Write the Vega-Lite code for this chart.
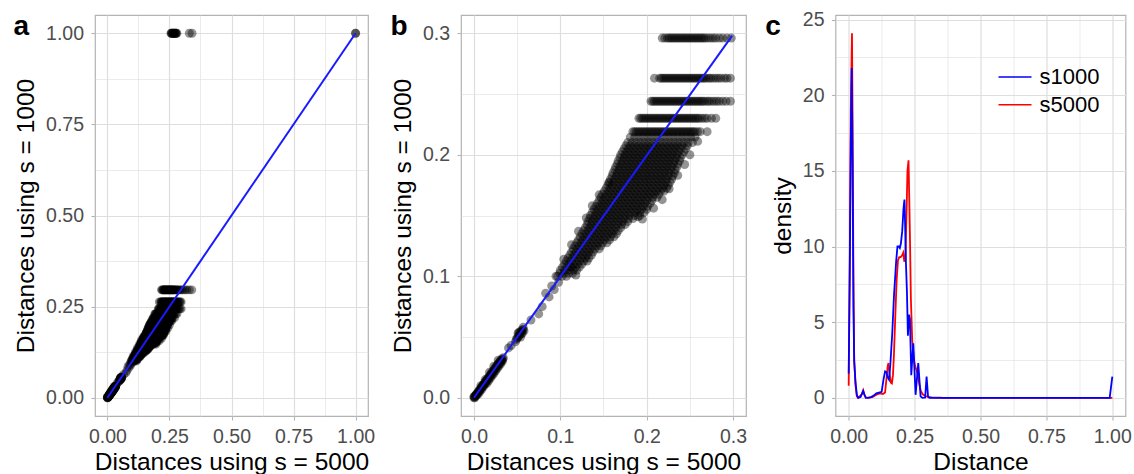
{
  "$schema": "https://vega.github.io/schema/vega-lite/v6.json",
  "padding": {"left": 12, "top": 8, "right": 0, "bottom": 0},
  "background": "white",
  "config": {
    "font": "Liberation Sans",
    "view": {"stroke": "#B3B3B3", "strokeWidth": 1.2},
    "axis": {
      "domain": false,
      "gridColor": "#DEDEDE",
      "tickColor": "#B3B3B3",
      "tickSize": 4,
      "tickWidth": 1.1,
      "labelColor": "#4D4D4D",
      "labelFontSize": 19.5,
      "labelPadding": 7.5,
      "labelOverlap": false,
      "labelFlush": false,
      "titleFontSize": 24.5,
      "titleFontWeight": "normal",
      "titleColor": "#000000",
      "titlePadding": 7
    },
    "axisX": {"titlePadding": 4},
    "title": {"fontSize": 28, "fontWeight": "bold", "anchor": "start", "frame": "bounds", "color": "#000000"}
  },
  "datasets": {
    "pts": [
      {"x":0,"y":0},{"x":0.001,"y":0},{"x":0,"y":0.001},{"x":0.002,"y":0.002},{"x":0.003,"y":0.002},{"x":0.004,"y":0.004},{"x":0.005,"y":0.003},{"x":0.006,"y":0.006},{"x":0.007,"y":0.005},{"x":0.008,"y":0.008},{"x":0.009,"y":0.007},{"x":0.010,"y":0.010},{"x":0.011,"y":0.009},{"x":0.012,"y":0.012},{"x":0.013,"y":0.011},{"x":0.014,"y":0.014},{"x":0.015,"y":0.012},{"x":0.016,"y":0.016},{"x":0.017,"y":0.014},{"x":0.018,"y":0.018},{"x":0.019,"y":0.016},{"x":0.020,"y":0.020},{"x":0.021,"y":0.018},{"x":0.022,"y":0.022},{"x":0.023,"y":0.020},{"x":0.024,"y":0.024},{"x":0.025,"y":0.022},{"x":0.026,"y":0.026},{"x":0.027,"y":0.024},{"x":0.028,"y":0.028},{"x":0.029,"y":0.026},{"x":0.030,"y":0.030},{"x":0.031,"y":0.028},{"x":0.032,"y":0.032},{"x":0.033,"y":0.030},{"x":0.034,"y":0.033},{"x":0.028,"y":0.031},{"x":0.023,"y":0.026},{"x":0.018,"y":0.021},{"x":0.013,"y":0.015},{"x":0.008,"y":0.010},
      {"x":0.0005,"y":0.001},{"x":0.0015,"y":0.001},{"x":0.0025,"y":0.003},{"x":0.0035,"y":0.003},{"x":0.0045,"y":0.0045},{"x":0.0055,"y":0.005},{"x":0.0065,"y":0.0065},{"x":0.0075,"y":0.007},{"x":0.0085,"y":0.0085},{"x":0.0095,"y":0.009},{"x":0.0105,"y":0.0105},{"x":0.0115,"y":0.011},{"x":0.0125,"y":0.0125},{"x":0.0135,"y":0.013},{"x":0.0145,"y":0.0145},{"x":0.0155,"y":0.0145},{"x":0.0165,"y":0.0165},{"x":0.0175,"y":0.016},{"x":0.0185,"y":0.0185},{"x":0.0195,"y":0.018},{"x":0.0205,"y":0.0205},{"x":0.0215,"y":0.02},{"x":0.0225,"y":0.0225},{"x":0.0235,"y":0.022},{"x":0.0245,"y":0.0245},{"x":0.0255,"y":0.024},{"x":0.0265,"y":0.0265},{"x":0.0275,"y":0.026},{"x":0.0285,"y":0.0285},{"x":0.0295,"y":0.028},{"x":0.0305,"y":0.03},{"x":0.0315,"y":0.03},{"x":0.0325,"y":0.031},{"x":0.0335,"y":0.032},
      {"x":0.040,"y":0.041},{"x":0.043,"y":0.043},{"x":0.048,"y":0.046},{"x":0.050,"y":0.049},{"x":0.052,"y":0.051},{"x":0.053,"y":0.054},{"x":0.055,"y":0.053},{"x":0.056,"y":0.056},{"x":0.057,"y":0.058},{"x":0.054,"y":0.050},{"x":0.051,"y":0.053},{"x":0.058,"y":0.055},
      {"x":0.049,"y":0.048},{"x":0.051,"y":0.050},{"x":0.053,"y":0.052},{"x":0.055,"y":0.055},{"x":0.057,"y":0.056},{"x":0.052,"y":0.054},{"x":0.056,"y":0.053},
      {"x":0.066,"y":0.064},{"x":0.075,"y":0.069},{"x":0.079,"y":0.075},{"x":0.083,"y":0.086},{"x":0.087,"y":0.083},{"x":0.090,"y":0.092},{"x":0.093,"y":0.089},{"x":0.095,"y":0.100},{"x":0.098,"y":0.095},{"x":0.118,"y":0.101},{"x":0.112,"y":0.108},
      {"x":0.156,"y":0.177},{"x":0.195,"y":0.147},{"x":0.190,"y":0.149},{"x":0.104,"y":0.114},{"x":0.113,"y":0.126},{"x":0.121,"y":0.137},{"x":0.130,"y":0.148},{"x":0.137,"y":0.158},{"x":0.145,"y":0.167},{"x":0.259,"y":0.211},{"x":0.250,"y":0.200},{"x":0.244,"y":0.192},{"x":0.236,"y":0.183},{"x":0.226,"y":0.172},{"x":0.218,"y":0.163},{"x":0.208,"y":0.156},{"x":0.270,"y":0.219},
      {"x":0.097,"y":0.100},{"x":0.102,"y":0.100},{"x":0.107,"y":0.100},
      {"x":0.0995,"y":0.1025},{"x":0.1045,"y":0.1025},{"x":0.1095,"y":0.1025},{"x":0.114,"y":0.1025},
      {"x":0.100,"y":0.105},{"x":0.105,"y":0.105},{"x":0.110,"y":0.105},{"x":0.115,"y":0.105},{"x":0.119,"y":0.105},
      {"x":0.1025,"y":0.1075},{"x":0.1075,"y":0.1075},{"x":0.1125,"y":0.1075},{"x":0.1175,"y":0.1075},{"x":0.122,"y":0.1075},
      {"x":0.105,"y":0.110},{"x":0.110,"y":0.110},{"x":0.115,"y":0.110},{"x":0.120,"y":0.110},{"x":0.125,"y":0.110},
      {"x":0.107,"y":0.1125},{"x":0.112,"y":0.1125},{"x":0.117,"y":0.1125},{"x":0.122,"y":0.1125},{"x":0.127,"y":0.1125},{"x":0.131,"y":0.1125},
      {"x":0.109,"y":0.115},{"x":0.114,"y":0.115},{"x":0.119,"y":0.115},{"x":0.124,"y":0.115},{"x":0.129,"y":0.115},{"x":0.133,"y":0.115},
      {"x":0.111,"y":0.1175},{"x":0.116,"y":0.1175},{"x":0.121,"y":0.1175},{"x":0.126,"y":0.1175},{"x":0.131,"y":0.1175},{"x":0.136,"y":0.1175},
      {"x":0.113,"y":0.120},{"x":0.118,"y":0.120},{"x":0.123,"y":0.120},{"x":0.128,"y":0.120},{"x":0.133,"y":0.120},{"x":0.138,"y":0.120},
      {"x":0.115,"y":0.1225},{"x":0.120,"y":0.1225},{"x":0.125,"y":0.1225},{"x":0.130,"y":0.1225},{"x":0.135,"y":0.1225},{"x":0.140,"y":0.1225},{"x":0.145,"y":0.1225},
      {"x":0.117,"y":0.125},{"x":0.122,"y":0.125},{"x":0.127,"y":0.125},{"x":0.132,"y":0.125},{"x":0.137,"y":0.125},{"x":0.142,"y":0.125},{"x":0.147,"y":0.125},
      {"x":0.119,"y":0.1275},{"x":0.124,"y":0.1275},{"x":0.129,"y":0.1275},{"x":0.134,"y":0.1275},{"x":0.139,"y":0.1275},{"x":0.144,"y":0.1275},{"x":0.149,"y":0.1275},{"x":0.154,"y":0.1275},
      {"x":0.121,"y":0.130},{"x":0.126,"y":0.130},{"x":0.131,"y":0.130},{"x":0.136,"y":0.130},{"x":0.141,"y":0.130},{"x":0.146,"y":0.130},{"x":0.151,"y":0.130},{"x":0.157,"y":0.130},
      {"x":0.123,"y":0.1325},{"x":0.128,"y":0.1325},{"x":0.133,"y":0.1325},{"x":0.138,"y":0.1325},{"x":0.143,"y":0.1325},{"x":0.148,"y":0.1325},{"x":0.153,"y":0.1325},{"x":0.158,"y":0.1325},{"x":0.162,"y":0.1325},
      {"x":0.125,"y":0.135},{"x":0.130,"y":0.135},{"x":0.135,"y":0.135},{"x":0.140,"y":0.135},{"x":0.145,"y":0.135},{"x":0.150,"y":0.135},{"x":0.155,"y":0.135},{"x":0.160,"y":0.135},{"x":0.165,"y":0.135},
      {"x":0.127,"y":0.1375},{"x":0.132,"y":0.1375},{"x":0.137,"y":0.1375},{"x":0.142,"y":0.1375},{"x":0.147,"y":0.1375},{"x":0.152,"y":0.1375},{"x":0.157,"y":0.1375},{"x":0.162,"y":0.1375},{"x":0.167,"y":0.1375},
      {"x":0.129,"y":0.140},{"x":0.134,"y":0.140},{"x":0.139,"y":0.140},{"x":0.144,"y":0.140},{"x":0.149,"y":0.140},{"x":0.154,"y":0.140},{"x":0.159,"y":0.140},{"x":0.164,"y":0.140},{"x":0.170,"y":0.140},
      {"x":0.131,"y":0.1425},{"x":0.136,"y":0.1425},{"x":0.141,"y":0.1425},{"x":0.146,"y":0.1425},{"x":0.151,"y":0.1425},{"x":0.156,"y":0.1425},{"x":0.161,"y":0.1425},{"x":0.166,"y":0.1425},{"x":0.171,"y":0.1425},{"x":0.175,"y":0.1425},
      {"x":0.132,"y":0.145},{"x":0.137,"y":0.145},{"x":0.142,"y":0.145},{"x":0.147,"y":0.145},{"x":0.152,"y":0.145},{"x":0.157,"y":0.145},{"x":0.162,"y":0.145},{"x":0.167,"y":0.145},{"x":0.172,"y":0.145},{"x":0.178,"y":0.145},
      {"x":0.134,"y":0.1475},{"x":0.139,"y":0.1475},{"x":0.144,"y":0.1475},{"x":0.149,"y":0.1475},{"x":0.154,"y":0.1475},{"x":0.159,"y":0.1475},{"x":0.164,"y":0.1475},{"x":0.169,"y":0.1475},{"x":0.174,"y":0.1475},{"x":0.179,"y":0.1475},{"x":0.184,"y":0.1475},
      {"x":0.135,"y":0.150},{"x":0.140,"y":0.150},{"x":0.145,"y":0.150},{"x":0.150,"y":0.150},{"x":0.155,"y":0.150},{"x":0.160,"y":0.150},{"x":0.165,"y":0.150},{"x":0.170,"y":0.150},{"x":0.175,"y":0.150},{"x":0.180,"y":0.150},{"x":0.186,"y":0.150},{"x":0.192,"y":0.150},
      {"x":0.137,"y":0.1525},{"x":0.142,"y":0.1525},{"x":0.147,"y":0.1525},{"x":0.152,"y":0.1525},{"x":0.157,"y":0.1525},{"x":0.162,"y":0.1525},{"x":0.167,"y":0.1525},{"x":0.172,"y":0.1525},{"x":0.177,"y":0.1525},{"x":0.182,"y":0.1525},{"x":0.187,"y":0.1525},{"x":0.192,"y":0.1525},{"x":0.197,"y":0.1525},
      {"x":0.139,"y":0.155},{"x":0.144,"y":0.155},{"x":0.149,"y":0.155},{"x":0.154,"y":0.155},{"x":0.159,"y":0.155},{"x":0.164,"y":0.155},{"x":0.169,"y":0.155},{"x":0.174,"y":0.155},{"x":0.179,"y":0.155},{"x":0.184,"y":0.155},{"x":0.189,"y":0.155},{"x":0.194,"y":0.155},{"x":0.200,"y":0.155},
      {"x":0.141,"y":0.1575},{"x":0.146,"y":0.1575},{"x":0.151,"y":0.1575},{"x":0.156,"y":0.1575},{"x":0.161,"y":0.1575},{"x":0.166,"y":0.1575},{"x":0.171,"y":0.1575},{"x":0.176,"y":0.1575},{"x":0.181,"y":0.1575},{"x":0.186,"y":0.1575},{"x":0.191,"y":0.1575},{"x":0.196,"y":0.1575},{"x":0.201,"y":0.1575},
      {"x":0.143,"y":0.160},{"x":0.148,"y":0.160},{"x":0.153,"y":0.160},{"x":0.158,"y":0.160},{"x":0.163,"y":0.160},{"x":0.168,"y":0.160},{"x":0.173,"y":0.160},{"x":0.178,"y":0.160},{"x":0.183,"y":0.160},{"x":0.188,"y":0.160},{"x":0.193,"y":0.160},{"x":0.198,"y":0.160},{"x":0.204,"y":0.160},
      {"x":0.145,"y":0.1625},{"x":0.150,"y":0.1625},{"x":0.155,"y":0.1625},{"x":0.160,"y":0.1625},{"x":0.165,"y":0.1625},{"x":0.170,"y":0.1625},{"x":0.175,"y":0.1625},{"x":0.180,"y":0.1625},{"x":0.185,"y":0.1625},{"x":0.190,"y":0.1625},{"x":0.195,"y":0.1625},{"x":0.200,"y":0.1625},{"x":0.206,"y":0.1625},
      {"x":0.147,"y":0.165},{"x":0.152,"y":0.165},{"x":0.157,"y":0.165},{"x":0.162,"y":0.165},{"x":0.167,"y":0.165},{"x":0.172,"y":0.165},{"x":0.177,"y":0.165},{"x":0.182,"y":0.165},{"x":0.187,"y":0.165},{"x":0.192,"y":0.165},{"x":0.197,"y":0.165},{"x":0.202,"y":0.165},{"x":0.207,"y":0.165},{"x":0.212,"y":0.165},
      {"x":0.149,"y":0.1675},{"x":0.154,"y":0.1675},{"x":0.159,"y":0.1675},{"x":0.164,"y":0.1675},{"x":0.169,"y":0.1675},{"x":0.174,"y":0.1675},{"x":0.179,"y":0.1675},{"x":0.184,"y":0.1675},{"x":0.189,"y":0.1675},{"x":0.194,"y":0.1675},{"x":0.199,"y":0.1675},{"x":0.204,"y":0.1675},{"x":0.209,"y":0.1675},{"x":0.214,"y":0.1675},
      {"x":0.151,"y":0.170},{"x":0.156,"y":0.170},{"x":0.161,"y":0.170},{"x":0.166,"y":0.170},{"x":0.171,"y":0.170},{"x":0.176,"y":0.170},{"x":0.181,"y":0.170},{"x":0.186,"y":0.170},{"x":0.191,"y":0.170},{"x":0.196,"y":0.170},{"x":0.201,"y":0.170},{"x":0.206,"y":0.170},{"x":0.211,"y":0.170},{"x":0.216,"y":0.170},{"x":0.220,"y":0.170},
      {"x":0.153,"y":0.1725},{"x":0.158,"y":0.1725},{"x":0.163,"y":0.1725},{"x":0.168,"y":0.1725},{"x":0.173,"y":0.1725},{"x":0.178,"y":0.1725},{"x":0.183,"y":0.1725},{"x":0.188,"y":0.1725},{"x":0.193,"y":0.1725},{"x":0.198,"y":0.1725},{"x":0.203,"y":0.1725},{"x":0.208,"y":0.1725},{"x":0.213,"y":0.1725},{"x":0.218,"y":0.1725},{"x":0.223,"y":0.1725},
      {"x":0.155,"y":0.175},{"x":0.160,"y":0.175},{"x":0.165,"y":0.175},{"x":0.170,"y":0.175},{"x":0.175,"y":0.175},{"x":0.180,"y":0.175},{"x":0.185,"y":0.175},{"x":0.190,"y":0.175},{"x":0.195,"y":0.175},{"x":0.200,"y":0.175},{"x":0.205,"y":0.175},{"x":0.210,"y":0.175},{"x":0.215,"y":0.175},{"x":0.220,"y":0.175},{"x":0.225,"y":0.175},
      {"x":0.157,"y":0.1775},{"x":0.162,"y":0.1775},{"x":0.167,"y":0.1775},{"x":0.172,"y":0.1775},{"x":0.177,"y":0.1775},{"x":0.182,"y":0.1775},{"x":0.187,"y":0.1775},{"x":0.192,"y":0.1775},{"x":0.197,"y":0.1775},{"x":0.202,"y":0.1775},{"x":0.207,"y":0.1775},{"x":0.212,"y":0.1775},{"x":0.217,"y":0.1775},{"x":0.222,"y":0.1775},{"x":0.227,"y":0.1775},
      {"x":0.158,"y":0.180},{"x":0.163,"y":0.180},{"x":0.168,"y":0.180},{"x":0.173,"y":0.180},{"x":0.178,"y":0.180},{"x":0.183,"y":0.180},{"x":0.188,"y":0.180},{"x":0.193,"y":0.180},{"x":0.198,"y":0.180},{"x":0.203,"y":0.180},{"x":0.208,"y":0.180},{"x":0.213,"y":0.180},{"x":0.218,"y":0.180},{"x":0.223,"y":0.180},{"x":0.229,"y":0.180},
      {"x":0.160,"y":0.1825},{"x":0.165,"y":0.1825},{"x":0.170,"y":0.1825},{"x":0.175,"y":0.1825},{"x":0.180,"y":0.1825},{"x":0.185,"y":0.1825},{"x":0.190,"y":0.1825},{"x":0.195,"y":0.1825},{"x":0.200,"y":0.1825},{"x":0.205,"y":0.1825},{"x":0.210,"y":0.1825},{"x":0.215,"y":0.1825},{"x":0.220,"y":0.1825},{"x":0.225,"y":0.1825},{"x":0.230,"y":0.1825},
      {"x":0.161,"y":0.185},{"x":0.166,"y":0.185},{"x":0.171,"y":0.185},{"x":0.176,"y":0.185},{"x":0.181,"y":0.185},{"x":0.186,"y":0.185},{"x":0.191,"y":0.185},{"x":0.196,"y":0.185},{"x":0.201,"y":0.185},{"x":0.206,"y":0.185},{"x":0.211,"y":0.185},{"x":0.216,"y":0.185},{"x":0.221,"y":0.185},{"x":0.226,"y":0.185},{"x":0.232,"y":0.185},
      {"x":0.163,"y":0.1875},{"x":0.168,"y":0.1875},{"x":0.173,"y":0.1875},{"x":0.178,"y":0.1875},{"x":0.183,"y":0.1875},{"x":0.188,"y":0.1875},{"x":0.193,"y":0.1875},{"x":0.198,"y":0.1875},{"x":0.203,"y":0.1875},{"x":0.208,"y":0.1875},{"x":0.213,"y":0.1875},{"x":0.218,"y":0.1875},{"x":0.223,"y":0.1875},{"x":0.228,"y":0.1875},{"x":0.233,"y":0.1875},
      {"x":0.164,"y":0.190},{"x":0.169,"y":0.190},{"x":0.174,"y":0.190},{"x":0.179,"y":0.190},{"x":0.184,"y":0.190},{"x":0.189,"y":0.190},{"x":0.194,"y":0.190},{"x":0.199,"y":0.190},{"x":0.204,"y":0.190},{"x":0.209,"y":0.190},{"x":0.214,"y":0.190},{"x":0.219,"y":0.190},{"x":0.224,"y":0.190},{"x":0.229,"y":0.190},{"x":0.235,"y":0.190},
      {"x":0.166,"y":0.1925},{"x":0.171,"y":0.1925},{"x":0.176,"y":0.1925},{"x":0.181,"y":0.1925},{"x":0.186,"y":0.1925},{"x":0.191,"y":0.1925},{"x":0.196,"y":0.1925},{"x":0.201,"y":0.1925},{"x":0.206,"y":0.1925},{"x":0.211,"y":0.1925},{"x":0.216,"y":0.1925},{"x":0.221,"y":0.1925},{"x":0.226,"y":0.1925},{"x":0.231,"y":0.1925},{"x":0.236,"y":0.1925},
      {"x":0.167,"y":0.195},{"x":0.172,"y":0.195},{"x":0.177,"y":0.195},{"x":0.182,"y":0.195},{"x":0.187,"y":0.195},{"x":0.192,"y":0.195},{"x":0.197,"y":0.195},{"x":0.202,"y":0.195},{"x":0.207,"y":0.195},{"x":0.212,"y":0.195},{"x":0.217,"y":0.195},{"x":0.222,"y":0.195},{"x":0.227,"y":0.195},{"x":0.232,"y":0.195},{"x":0.238,"y":0.195},
      {"x":0.169,"y":0.1975},{"x":0.174,"y":0.1975},{"x":0.179,"y":0.1975},{"x":0.184,"y":0.1975},{"x":0.189,"y":0.1975},{"x":0.194,"y":0.1975},{"x":0.199,"y":0.1975},{"x":0.204,"y":0.1975},{"x":0.209,"y":0.1975},{"x":0.214,"y":0.1975},{"x":0.219,"y":0.1975},{"x":0.224,"y":0.1975},{"x":0.229,"y":0.1975},{"x":0.234,"y":0.1975},{"x":0.239,"y":0.1975},
      {"x":0.170,"y":0.200},{"x":0.175,"y":0.200},{"x":0.180,"y":0.200},{"x":0.185,"y":0.200},{"x":0.190,"y":0.200},{"x":0.195,"y":0.200},{"x":0.200,"y":0.200},{"x":0.205,"y":0.200},{"x":0.210,"y":0.200},{"x":0.215,"y":0.200},{"x":0.220,"y":0.200},{"x":0.225,"y":0.200},{"x":0.230,"y":0.200},{"x":0.235,"y":0.200},{"x":0.241,"y":0.200},
      {"x":0.172,"y":0.2025},{"x":0.177,"y":0.2025},{"x":0.182,"y":0.2025},{"x":0.187,"y":0.2025},{"x":0.192,"y":0.2025},{"x":0.197,"y":0.2025},{"x":0.202,"y":0.2025},{"x":0.207,"y":0.2025},{"x":0.212,"y":0.2025},{"x":0.217,"y":0.2025},{"x":0.222,"y":0.2025},{"x":0.227,"y":0.2025},{"x":0.232,"y":0.2025},{"x":0.237,"y":0.2025},{"x":0.243,"y":0.2025},
      {"x":0.174,"y":0.205},{"x":0.179,"y":0.205},{"x":0.184,"y":0.205},{"x":0.189,"y":0.205},{"x":0.194,"y":0.205},{"x":0.199,"y":0.205},{"x":0.204,"y":0.205},{"x":0.209,"y":0.205},{"x":0.214,"y":0.205},{"x":0.219,"y":0.205},{"x":0.224,"y":0.205},{"x":0.229,"y":0.205},{"x":0.234,"y":0.205},{"x":0.239,"y":0.205},{"x":0.245,"y":0.205},
      {"x":0.176,"y":0.2075},{"x":0.181,"y":0.2075},{"x":0.186,"y":0.2075},{"x":0.191,"y":0.2075},{"x":0.196,"y":0.2075},{"x":0.201,"y":0.2075},{"x":0.206,"y":0.2075},{"x":0.211,"y":0.2075},{"x":0.216,"y":0.2075},{"x":0.221,"y":0.2075},{"x":0.226,"y":0.2075},{"x":0.231,"y":0.2075},{"x":0.236,"y":0.2075},{"x":0.241,"y":0.2075},{"x":0.247,"y":0.2075},
      {"x":0.178,"y":0.210},{"x":0.183,"y":0.210},{"x":0.188,"y":0.210},{"x":0.193,"y":0.210},{"x":0.198,"y":0.210},{"x":0.203,"y":0.210},{"x":0.208,"y":0.210},{"x":0.213,"y":0.210},{"x":0.218,"y":0.210},{"x":0.223,"y":0.210},{"x":0.228,"y":0.210},{"x":0.233,"y":0.210},{"x":0.238,"y":0.210},{"x":0.243,"y":0.210},{"x":0.248,"y":0.210},{"x":0.253,"y":0.210},
      {"x":0.181,"y":0.2145},{"x":0.186,"y":0.2145},{"x":0.191,"y":0.2145},{"x":0.196,"y":0.2145},{"x":0.201,"y":0.2145},{"x":0.206,"y":0.2145},{"x":0.211,"y":0.2145},{"x":0.216,"y":0.2145},{"x":0.221,"y":0.2145},{"x":0.226,"y":0.2145},{"x":0.231,"y":0.2145},{"x":0.236,"y":0.2145},{"x":0.241,"y":0.2145},{"x":0.246,"y":0.2145},{"x":0.251,"y":0.2145},{"x":0.256,"y":0.2145},
      {"x":0.184,"y":0.219},{"x":0.188,"y":0.219},{"x":0.192,"y":0.219},{"x":0.196,"y":0.219},{"x":0.200,"y":0.219},{"x":0.204,"y":0.219},{"x":0.208,"y":0.219},{"x":0.212,"y":0.219},{"x":0.216,"y":0.219},{"x":0.220,"y":0.219},{"x":0.224,"y":0.219},{"x":0.228,"y":0.219},{"x":0.232,"y":0.219},{"x":0.236,"y":0.219},{"x":0.240,"y":0.219},{"x":0.244,"y":0.219},{"x":0.248,"y":0.219},{"x":0.252,"y":0.219},{"x":0.256,"y":0.219},{"x":0.262,"y":0.219},
      {"x":0.186,"y":0.219},{"x":0.190,"y":0.219},{"x":0.194,"y":0.219},{"x":0.198,"y":0.219},{"x":0.202,"y":0.219},{"x":0.206,"y":0.219},{"x":0.210,"y":0.219},{"x":0.214,"y":0.219},{"x":0.218,"y":0.219},{"x":0.222,"y":0.219},{"x":0.226,"y":0.219},{"x":0.230,"y":0.219},{"x":0.234,"y":0.219},{"x":0.238,"y":0.219},{"x":0.242,"y":0.219},{"x":0.246,"y":0.219},{"x":0.250,"y":0.219},{"x":0.254,"y":0.219},{"x":0.259,"y":0.219},
      {"x":0.191,"y":0.230},{"x":0.195,"y":0.230},{"x":0.199,"y":0.230},{"x":0.203,"y":0.230},{"x":0.207,"y":0.230},{"x":0.211,"y":0.230},{"x":0.215,"y":0.230},{"x":0.219,"y":0.230},{"x":0.223,"y":0.230},{"x":0.227,"y":0.230},{"x":0.231,"y":0.230},{"x":0.235,"y":0.230},{"x":0.239,"y":0.230},{"x":0.243,"y":0.230},{"x":0.247,"y":0.230},{"x":0.251,"y":0.230},{"x":0.255,"y":0.230},{"x":0.259,"y":0.230},{"x":0.264,"y":0.230},{"x":0.270,"y":0.230},{"x":0.280,"y":0.230},
      {"x":0.193,"y":0.230},{"x":0.197,"y":0.230},{"x":0.201,"y":0.230},{"x":0.205,"y":0.230},{"x":0.209,"y":0.230},{"x":0.213,"y":0.230},{"x":0.217,"y":0.230},{"x":0.221,"y":0.230},{"x":0.225,"y":0.230},{"x":0.229,"y":0.230},{"x":0.233,"y":0.230},{"x":0.237,"y":0.230},{"x":0.241,"y":0.230},{"x":0.245,"y":0.230},{"x":0.249,"y":0.230},{"x":0.253,"y":0.230},{"x":0.257,"y":0.230},{"x":0.261,"y":0.230},{"x":0.267,"y":0.230},{"x":0.275,"y":0.230},
      {"x":0.205,"y":0.244},{"x":0.209,"y":0.244},{"x":0.213,"y":0.244},{"x":0.217,"y":0.244},{"x":0.221,"y":0.244},{"x":0.225,"y":0.244},{"x":0.229,"y":0.244},{"x":0.233,"y":0.244},{"x":0.237,"y":0.244},{"x":0.241,"y":0.244},{"x":0.245,"y":0.244},{"x":0.249,"y":0.244},{"x":0.253,"y":0.244},{"x":0.257,"y":0.244},{"x":0.261,"y":0.244},{"x":0.265,"y":0.244},{"x":0.270,"y":0.244},{"x":0.275,"y":0.244},{"x":0.281,"y":0.244},{"x":0.288,"y":0.244},{"x":0.297,"y":0.244},
      {"x":0.207,"y":0.244},{"x":0.211,"y":0.244},{"x":0.215,"y":0.244},{"x":0.219,"y":0.244},{"x":0.223,"y":0.244},{"x":0.227,"y":0.244},{"x":0.231,"y":0.244},{"x":0.235,"y":0.244},{"x":0.239,"y":0.244},{"x":0.243,"y":0.244},{"x":0.247,"y":0.244},{"x":0.251,"y":0.244},{"x":0.255,"y":0.244},{"x":0.259,"y":0.244},{"x":0.263,"y":0.244},{"x":0.267,"y":0.244},{"x":0.272,"y":0.244},{"x":0.278,"y":0.244},{"x":0.284,"y":0.244},{"x":0.292,"y":0.244},
      {"x":0.209,"y":0.263},{"x":0.215,"y":0.263},{"x":0.219,"y":0.263},{"x":0.223,"y":0.263},{"x":0.227,"y":0.263},{"x":0.231,"y":0.263},{"x":0.235,"y":0.263},{"x":0.239,"y":0.263},{"x":0.243,"y":0.263},{"x":0.247,"y":0.263},{"x":0.251,"y":0.263},{"x":0.255,"y":0.263},{"x":0.259,"y":0.263},{"x":0.263,"y":0.263},{"x":0.267,"y":0.263},{"x":0.272,"y":0.263},{"x":0.277,"y":0.263},{"x":0.283,"y":0.263},{"x":0.290,"y":0.263},{"x":0.297,"y":0.263},
      {"x":0.217,"y":0.263},{"x":0.221,"y":0.263},{"x":0.225,"y":0.263},{"x":0.229,"y":0.263},{"x":0.233,"y":0.263},{"x":0.237,"y":0.263},{"x":0.241,"y":0.263},{"x":0.245,"y":0.263},{"x":0.249,"y":0.263},{"x":0.253,"y":0.263},{"x":0.257,"y":0.263},{"x":0.261,"y":0.263},{"x":0.265,"y":0.263},{"x":0.269,"y":0.263},{"x":0.274,"y":0.263},{"x":0.280,"y":0.263},{"x":0.286,"y":0.263},{"x":0.293,"y":0.263},
      {"x":0.218,"y":0.296},{"x":0.224,"y":0.296},{"x":0.228,"y":0.296},{"x":0.232,"y":0.296},{"x":0.236,"y":0.296},{"x":0.240,"y":0.296},{"x":0.244,"y":0.296},{"x":0.248,"y":0.296},{"x":0.252,"y":0.296},{"x":0.256,"y":0.296},{"x":0.260,"y":0.296},{"x":0.264,"y":0.296},{"x":0.268,"y":0.296},{"x":0.274,"y":0.296},{"x":0.280,"y":0.296},{"x":0.288,"y":0.296},{"x":0.298,"y":0.296},{"x":0.305,"y":0.296},{"x":0.312,"y":0.296},{"x":0.320,"y":0.296},{"x":0.330,"y":0.296},{"x":0.340,"y":0.296},
      {"x":0.221,"y":0.296},{"x":0.226,"y":0.296},{"x":0.230,"y":0.296},{"x":0.234,"y":0.296},{"x":0.238,"y":0.296},{"x":0.242,"y":0.296},{"x":0.246,"y":0.296},{"x":0.250,"y":0.296},{"x":0.254,"y":0.296},{"x":0.258,"y":0.296},{"x":0.262,"y":0.296},{"x":0.266,"y":0.296},{"x":0.271,"y":0.296},{"x":0.277,"y":0.296},{"x":0.284,"y":0.296},{"x":0.293,"y":0.296},
      {"x":0.256,"y":1},{"x":0.259,"y":1},{"x":0.262,"y":1},{"x":0.265,"y":1},{"x":0.268,"y":1},{"x":0.271,"y":1},{"x":0.274,"y":1},{"x":0.277,"y":1},{"x":0.280,"y":1},{"x":0.258,"y":1},{"x":0.264,"y":1},{"x":0.270,"y":1},{"x":0.276,"y":1},{"x":0.330,"y":1},{"x":0.341,"y":1},{"x":1,"y":1},{"x":1,"y":1}
    ],
    "diag_a": [{"x":0,"y":0},{"x":1,"y":1}],
    "diag_b": [{"x":0,"y":0},{"x":0.299,"y":0.298}],
    "dens": [
      {"series":"s1000","dist":0,"density":1.6},{"series":"s1000","dist":0.004,"density":8},{"series":"s1000","dist":0.008,"density":17},{"series":"s1000","dist":0.0115,"density":21.8},{"series":"s1000","dist":0.015,"density":15},{"series":"s1000","dist":0.018,"density":6},{"series":"s1000","dist":0.021,"density":2.4},{"series":"s1000","dist":0.026,"density":1.0},{"series":"s1000","dist":0.031,"density":0.2},{"series":"s1000","dist":0.036,"density":0},{"series":"s1000","dist":0.045,"density":0.05},{"series":"s1000","dist":0.05,"density":0.25},{"series":"s1000","dist":0.055,"density":0.45},{"series":"s1000","dist":0.06,"density":0.2},{"series":"s1000","dist":0.065,"density":0.02},{"series":"s1000","dist":0.075,"density":0},{"series":"s1000","dist":0.085,"density":0.05},{"series":"s1000","dist":0.095,"density":0.15},{"series":"s1000","dist":0.105,"density":0.3},{"series":"s1000","dist":0.115,"density":0.35},{"series":"s1000","dist":0.125,"density":0.4},{"series":"s1000","dist":0.132,"density":1.2},{"series":"s1000","dist":0.138,"density":1.75},{"series":"s1000","dist":0.143,"density":1.7},{"series":"s1000","dist":0.148,"density":1.35},{"series":"s1000","dist":0.153,"density":1.2},{"series":"s1000","dist":0.158,"density":2.2},{"series":"s1000","dist":0.1654,"density":4.3},{"series":"s1000","dist":0.172,"density":6.8},{"series":"s1000","dist":0.18,"density":9.0},{"series":"s1000","dist":0.185,"density":10.0},{"series":"s1000","dist":0.19,"density":10.0},{"series":"s1000","dist":0.194,"density":9.9},{"series":"s1000","dist":0.198,"density":10.2},{"series":"s1000","dist":0.203,"density":11.0},{"series":"s1000","dist":0.208,"density":12.5},{"series":"s1000","dist":0.2115,"density":13.1},{"series":"s1000","dist":0.214,"density":11.5},{"series":"s1000","dist":0.2172,"density":8.9},{"series":"s1000","dist":0.221,"density":7.0},{"series":"s1000","dist":0.2247,"density":4.1},{"series":"s1000","dist":0.2285,"density":5.5},{"series":"s1000","dist":0.2323,"density":5.2},{"series":"s1000","dist":0.2374,"density":1.5},{"series":"s1000","dist":0.245,"density":3.6},{"series":"s1000","dist":0.2538,"density":0.2},{"series":"s1000","dist":0.2639,"density":2.3},{"series":"s1000","dist":0.2727,"density":0.1},{"series":"s1000","dist":0.28,"density":0},{"series":"s1000","dist":0.29,"density":0.02},{"series":"s1000","dist":0.2955,"density":1.4},{"series":"s1000","dist":0.301,"density":0.1},{"series":"s1000","dist":0.306,"density":0},{"series":"s1000","dist":0.5,"density":0},{"series":"s1000","dist":0.99,"density":0},{"series":"s1000","dist":1.0,"density":1.4},
      {"series":"s5000","dist":0,"density":0.8},{"series":"s5000","dist":0.004,"density":9},{"series":"s5000","dist":0.008,"density":19},{"series":"s5000","dist":0.0125,"density":24.1},{"series":"s5000","dist":0.015,"density":18},{"series":"s5000","dist":0.018,"density":8},{"series":"s5000","dist":0.021,"density":2.5},{"series":"s5000","dist":0.026,"density":0.8},{"series":"s5000","dist":0.031,"density":0.1},{"series":"s5000","dist":0.036,"density":0},{"series":"s5000","dist":0.05,"density":0.25},{"series":"s5000","dist":0.055,"density":0.5},{"series":"s5000","dist":0.06,"density":0.2},{"series":"s5000","dist":0.065,"density":0},{"series":"s5000","dist":0.09,"density":0.05},{"series":"s5000","dist":0.1,"density":0.15},{"series":"s5000","dist":0.11,"density":0.25},{"series":"s5000","dist":0.12,"density":0.3},{"series":"s5000","dist":0.13,"density":0.25},{"series":"s5000","dist":0.138,"density":0.35},{"series":"s5000","dist":0.143,"density":1.2},{"series":"s5000","dist":0.148,"density":2.1},{"series":"s5000","dist":0.151,"density":2.3},{"series":"s5000","dist":0.155,"density":1.6},{"series":"s5000","dist":0.16,"density":1.0},{"series":"s5000","dist":0.164,"density":0.95},{"series":"s5000","dist":0.168,"density":1.5},{"series":"s5000","dist":0.172,"density":3.0},{"series":"s5000","dist":0.177,"density":5.5},{"series":"s5000","dist":0.182,"density":7.8},{"series":"s5000","dist":0.187,"density":9.1},{"series":"s5000","dist":0.192,"density":9.3},{"series":"s5000","dist":0.197,"density":9.3},{"series":"s5000","dist":0.202,"density":9.4},{"series":"s5000","dist":0.207,"density":9.6},{"series":"s5000","dist":0.211,"density":9.0},{"series":"s5000","dist":0.215,"density":9.2},{"series":"s5000","dist":0.219,"density":12.0},{"series":"s5000","dist":0.223,"density":15.0},{"series":"s5000","dist":0.227,"density":15.7},{"series":"s5000","dist":0.23,"density":13},{"series":"s5000","dist":0.233,"density":10},{"series":"s5000","dist":0.236,"density":6.5},{"series":"s5000","dist":0.241,"density":3.8},{"series":"s5000","dist":0.247,"density":2.6},{"series":"s5000","dist":0.252,"density":2.1},{"series":"s5000","dist":0.258,"density":1.8},{"series":"s5000","dist":0.263,"density":1.4},{"series":"s5000","dist":0.268,"density":0.9},{"series":"s5000","dist":0.273,"density":0.5},{"series":"s5000","dist":0.28,"density":0.25},{"series":"s5000","dist":0.29,"density":0.12},{"series":"s5000","dist":0.3,"density":0.06},{"series":"s5000","dist":0.315,"density":0.03},{"series":"s5000","dist":0.345,"density":0.02},{"series":"s5000","dist":0.36,"density":0},{"series":"s5000","dist":1.0,"density":0}
    ]
  },
  "spacing": 13,
  "hconcat": [
    {
      "title": {"text": "a", "offset": -26},
      "width": 273,
      "height": 401,
      "encoding": {
        "x": {"field": "x", "type": "quantitative",
          "scale": {"domain": [-0.05, 1.05], "nice": false, "zero": false},
          "axis": {"title": "Distances using s = 5000", "values": [0,0.125,0.25,0.375,0.5,0.625,0.75,0.875,1],
            "labelExpr": "indexof([0,0.25,0.5,0.75,1],datum.value)>=0?format(datum.value,'.2f'):''",
            "gridWidth": {"condition": {"test": "indexof([0,0.25,0.5,0.75,1],datum.value)>=0", "value": 1.2}, "value": 0.6},
            "tickOpacity": {"condition": {"test": "indexof([0,0.25,0.5,0.75,1],datum.value)>=0", "value": 1}, "value": 0}}},
        "y": {"field": "y", "type": "quantitative",
          "scale": {"domain": [-0.05, 1.05], "nice": false, "zero": false},
          "axis": {"title": "Distances using s = 1000", "values": [0,0.125,0.25,0.375,0.5,0.625,0.75,0.875,1],
            "labelExpr": "indexof([0,0.25,0.5,0.75,1],datum.value)>=0?format(datum.value,'.2f'):''",
            "gridWidth": {"condition": {"test": "indexof([0,0.25,0.5,0.75,1],datum.value)>=0", "value": 1.2}, "value": 0.6},
            "tickOpacity": {"condition": {"test": "indexof([0,0.25,0.5,0.75,1],datum.value)>=0", "value": 1}, "value": 0}}}
      },
      "layer": [
        {"data": {"name": "pts"}, "mark": {"type": "circle", "size": 80, "opacity": 0.42, "color": "#000000"}},
        {"data": {"name": "diag_a"}, "mark": {"type": "line", "color": "#1a1aff", "strokeWidth": 2}}
      ]
    },
    {
      "spacing": 16.5,
      "hconcat": [
        {
          "title": {"text": "b", "offset": -26},
          "width": 285,
          "height": 401,
          "encoding": {
            "x": {"field": "x", "type": "quantitative",
              "scale": {"domain": [-0.015, 0.315], "nice": false, "zero": false},
              "axis": {"title": "Distances using s = 5000", "values": [0,0.05,0.1,0.15,0.2,0.25,0.3],
                "labelExpr": "indexof([0,0.1,0.2,0.3],datum.value)>=0?format(datum.value,'.1f'):''",
                "gridWidth": {"condition": {"test": "indexof([0,0.1,0.2,0.3],datum.value)>=0", "value": 1.2}, "value": 0.6},
                "tickOpacity": {"condition": {"test": "indexof([0,0.1,0.2,0.3],datum.value)>=0", "value": 1}, "value": 0}}},
            "y": {"field": "y", "type": "quantitative",
              "scale": {"domain": [-0.015, 0.315], "nice": false, "zero": false},
              "axis": {"title": "Distances using s = 1000", "values": [0,0.05,0.1,0.15,0.2,0.25,0.3],
                "labelExpr": "indexof([0,0.1,0.2,0.3],datum.value)>=0?format(datum.value,'.1f'):''",
                "gridWidth": {"condition": {"test": "indexof([0,0.1,0.2,0.3],datum.value)>=0", "value": 1.2}, "value": 0.6},
                "tickOpacity": {"condition": {"test": "indexof([0,0.1,0.2,0.3],datum.value)>=0", "value": 1}, "value": 0}}}
          },
          "layer": [
            {"data": {"name": "pts"}, "transform": [{"filter": "datum.x <= 0.3 && datum.y <= 0.3"}], "mark": {"type": "circle", "size": 80, "opacity": 0.42, "color": "#000000"}},
            {"data": {"name": "diag_b"}, "mark": {"type": "line", "color": "#1a1aff", "strokeWidth": 2}}
          ]
        },
        {
          "title": {"text": "c", "offset": -31, "dx": -5},
          "width": 290,
          "height": 401,
          "data": {"name": "dens"},
          "encoding": {
            "x": {"field": "dist", "type": "quantitative",
              "scale": {"domain": [-0.05, 1.05], "nice": false, "zero": false},
              "axis": {"title": "Distance", "values": [0,0.125,0.25,0.375,0.5,0.625,0.75,0.875,1],
                "labelExpr": "indexof([0,0.25,0.5,0.75,1],datum.value)>=0?format(datum.value,'.2f'):''",
                "gridWidth": {"condition": {"test": "indexof([0,0.25,0.5,0.75,1],datum.value)>=0", "value": 1.2}, "value": 0.6},
                "tickOpacity": {"condition": {"test": "indexof([0,0.25,0.5,0.75,1],datum.value)>=0", "value": 1}, "value": 0}}},
            "y": {"field": "density", "type": "quantitative",
              "scale": {"domain": [-1.2, 25.3], "nice": false, "zero": false},
              "axis": {"title": "density", "values": [0,2.5,5,7.5,10,12.5,15,17.5,20,22.5,25],
                "labelExpr": "datum.value%5===0?format(datum.value,'d'):''",
                "gridWidth": {"condition": {"test": "datum.value%5===0", "value": 1.2}, "value": 0.6},
                "tickOpacity": {"condition": {"test": "datum.value%5===0", "value": 1}, "value": 0}}},
            "color": {"field": "series", "type": "nominal",
              "scale": {"domain": ["s1000", "s5000"], "range": ["#0000FF", "#FF0000"]},
              "legend": {"orient": "none", "legendX": 908, "legendY": 50, "title": null,
                "symbolType": "M-1.5,0H1.5", "symbolSize": 484, "symbolStrokeWidth": 1.6,
                "labelFontSize": 22, "labelColor": "#000000", "labelOffset": 12.5, "rowPadding": 4.7, "padding": 0}}
          },
          "layer": [
            {"transform": [{"filter": "datum.series === 's5000'"}], "mark": {"type": "line", "strokeWidth": 1.8}},
            {"transform": [{"filter": "datum.series === 's1000'"}], "mark": {"type": "line", "strokeWidth": 1.8}}
          ]
        }
      ]
    }
  ]
}
